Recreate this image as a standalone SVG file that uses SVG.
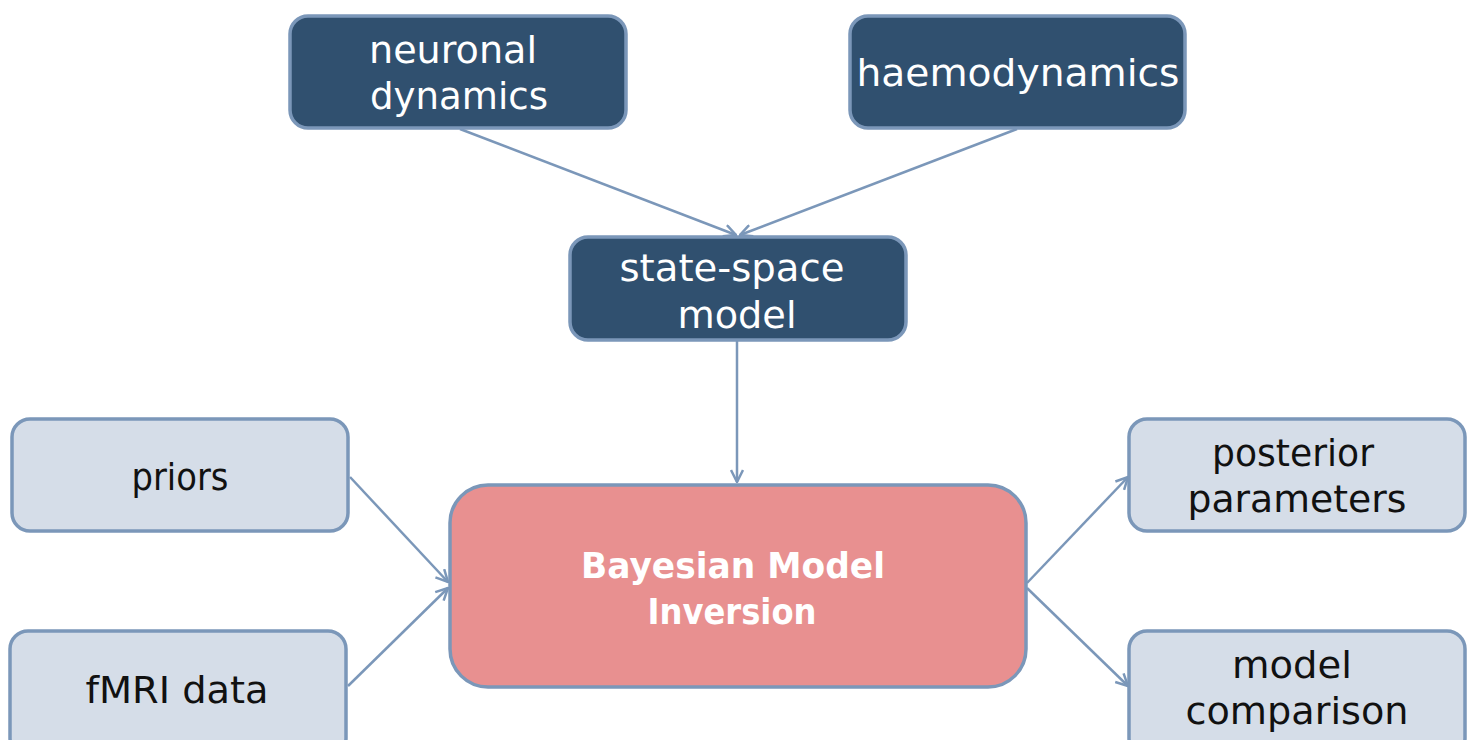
<svg xmlns="http://www.w3.org/2000/svg" width="1475" height="740" viewBox="0 0 1475 740">
<style>
.box{stroke:#7b97b9;stroke-width:3.5}
.dark{fill:#30506f}
.light{fill:#d5dde8}
.pink{fill:#e89090}
text{font-family:"DejaVu Sans","Liberation Sans",sans-serif;font-size:38px;text-anchor:middle}
.w{fill:#ffffff}
.k{fill:#111111}
.b{font-weight:bold;font-size:36px}
.conn{stroke:#7b97b9;stroke-width:2.5;fill:none;marker-end:url(#arr)}
</style>
<defs>
<marker id="arr" viewBox="0 0 14 14" refX="13" refY="7" markerWidth="14" markerHeight="14" markerUnits="userSpaceOnUse" orient="auto">
<path d="M1,1 L13,7 L1,13" fill="none" stroke="#7b97b9" stroke-width="2.5"/>
</marker>
</defs>
<rect width="1475" height="740" fill="#ffffff"/>
<g id="connectors">
<line class="conn" x1="460" y1="129" x2="736" y2="235"/>
<line class="conn" x1="1017" y1="129" x2="740" y2="235"/>
<line class="conn" x1="737" y1="341" x2="737" y2="482"/>
<line class="conn" x1="350" y1="477" x2="448" y2="582"/>
<line class="conn" x1="348" y1="686" x2="448" y2="588"/>
<line class="conn" x1="1027" y1="583" x2="1128" y2="477"/>
<line class="conn" x1="1027" y1="588" x2="1128" y2="686"/>
</g>
<g id="neuronal">
<rect class="box dark" x="290" y="16" width="336" height="112" rx="18"/>
<text class="w" x="453" y="63" textLength="168" lengthAdjust="spacingAndGlyphs">neuronal</text>
<text class="w" x="459" y="109" textLength="178" lengthAdjust="spacingAndGlyphs">dynamics</text>
</g>
<g id="haemodynamics">
<rect class="box dark" x="850" y="16" width="335" height="112" rx="18"/>
<text class="w" x="1018" y="86" textLength="323" lengthAdjust="spacingAndGlyphs">haemodynamics</text>
</g>
<g id="statespace">
<rect class="box dark" x="570" y="237" width="336" height="103" rx="18"/>
<text class="w" x="732" y="281" textLength="225" lengthAdjust="spacingAndGlyphs">state-space</text>
<text class="w" x="737" y="328" textLength="119" lengthAdjust="spacingAndGlyphs">model</text>
</g>
<g id="priors">
<rect class="box light" x="12" y="419" width="336" height="112" rx="18"/>
<text class="k" x="180" y="490" textLength="97" lengthAdjust="spacingAndGlyphs">priors</text>
</g>
<g id="fmri">
<rect class="box light" x="10" y="631" width="336" height="125" rx="18"/>
<text class="k" x="177" y="703" textLength="183" lengthAdjust="spacingAndGlyphs">fMRI data</text>
</g>
<g id="inversion">
<rect class="box pink" x="450" y="485" width="576" height="202" rx="38"/>
<text class="w b" x="733" y="578" textLength="304" lengthAdjust="spacingAndGlyphs">Bayesian Model</text>
<text class="w b" x="732" y="624" textLength="169" lengthAdjust="spacingAndGlyphs">Inversion</text>
</g>
<g id="posterior">
<rect class="box light" x="1129" y="419" width="336" height="112" rx="18"/>
<text class="k" x="1293" y="466" textLength="162" lengthAdjust="spacingAndGlyphs">posterior</text>
<text class="k" x="1297" y="512" textLength="219" lengthAdjust="spacingAndGlyphs">parameters</text>
</g>
<g id="comparison">
<rect class="box light" x="1129" y="631" width="336" height="125" rx="18"/>
<text class="k" x="1292" y="678" textLength="120" lengthAdjust="spacingAndGlyphs">model</text>
<text class="k" x="1297" y="724" textLength="223" lengthAdjust="spacingAndGlyphs">comparison</text>
</g>
</svg>
